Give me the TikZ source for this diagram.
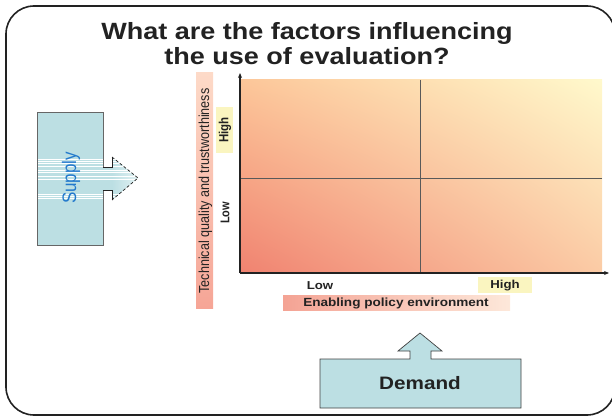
\documentclass[tikz,border=0pt]{standalone}
\usepackage{fontspec}
\setmainfont{Liberation Sans}
\usetikzlibrary{arrows.meta,shadings}
\definecolor{ink}{HTML}{222222}
\definecolor{boxblue}{HTML}{BCDFE3}
\definecolor{hiyel}{HTML}{FAF5C0}
\definecolor{suppblue}{HTML}{2279CC}
\definecolor{qll}{HTML}{F08270}
\definecolor{qul}{HTML}{FCC699}
\definecolor{qur}{HTML}{FFF9CC}
\definecolor{qlr}{HTML}{FBCBA5}
\newcommand{\hs}[1]{\scalebox{1.15}[1]{#1}}
\newcommand{\vs}[1]{\scalebox{1}[1.15]{#1}}
\tikzset{
  lbl/.style={inner sep=0pt, text=ink},
  axisline/.style={line width=1.3pt, draw=ink, -{Stealth[length=5pt,width=4pt]}},
  divider/.style={line width=1pt, draw=black!65},
  bluebox/.style={fill=boxblue, draw=black!75, line width=0.7pt},
}
\begin{document}
\begin{tikzpicture}[x=1pt,y=-1pt]
\useasboundingbox (0,0) rectangle (612,417);
\clip (0,0) rectangle (612,417);
% frame
\draw[line width=1.6pt, draw=ink, rounded corners=28pt] (6,6) rectangle (615,415);
% title
\node[lbl, anchor=base] (t1) at (307,40) {\fontsize{23.5}{28}\selectfont\bfseries\hs{What are the factors influencing}};
\node[lbl, anchor=base] (t2) at (307,65) {\fontsize{23.5}{28}\selectfont\bfseries\hs{the use of evaluation?}};
% quadrant
\shade[lower left=qll, upper left=qul, upper right=qur, lower right=qlr] (240,80) rectangle (602,273);
\coordinate (o) at (240,273);
\coordinate (ytop) at (240,73);
\coordinate (xend) at (609,273);
\draw[divider] (420,80) -- (420,273);
\draw[divider] (240,178) -- (602,178);
\draw[axisline] (o) -- (ytop);
\draw[axisline] (o) -- (xend);
% y label band
\shade[top color={rgb,255:red,253;green,218;blue,200}, bottom color={rgb,255:red,246;green,165;blue,150}] (196,73) rectangle (213,308);
\node[lbl, rotate=90] (ylab) at (205.5,191) {\fontsize{12.6}{14}\selectfont\vs{Technical quality and trustworthiness}};
\fill[hiyel] (216,107) rectangle (233,153);
\node[lbl, rotate=90] (yhigh) at (225,130) {\fontsize{11.5}{13}\selectfont\bfseries\vs{High}};
\node[lbl, rotate=90] (ylow) at (225,213) {\fontsize{11}{13}\selectfont\bfseries\vs{Low}};
% x labels
\node[lbl] (xlow) at (320,286) {\fontsize{11.5}{13}\selectfont\bfseries\hs{Low}};
\fill[hiyel] (478,277) rectangle (532,293);
\node[lbl] (xhigh) at (505,285.5) {\fontsize{11.5}{13}\selectfont\bfseries\hs{High}};
\shade[left color={rgb,255:red,244;green,163;blue,148}, right color={rgb,255:red,253;green,232;blue,218}] (283,295) rectangle (510,310);
\node[lbl] (xlab) at (396,303) {\fontsize{11.8}{13}\selectfont\bfseries\hs{Enabling policy environment}};
% demand
\draw[bluebox] (320,359) -- (410,359) -- (410,351) -- (398,351) -- (420,333) -- (442,351) -- (431,351) -- (431,359) -- (521,359) -- (521,408) -- (320,408) -- cycle;
\node[lbl] (demand) at (420,383) {\fontsize{18}{20}\selectfont\bfseries\hs{Demand}};
% supply
\fill[boxblue] (37,112) rectangle (103,245);
\fill[boxblue] (102,167) rectangle (112.5,190);
\shade[left color=boxblue, right color=boxblue!45] (112,157) -- (138,178) -- (112,200) -- cycle;
\begin{scope}
  \clip (37,112) -- (103,112) -- (103,167) -- (112,167) -- (112,157) -- (138,178) -- (112,200) -- (112,190) -- (103,190) -- (103,245) -- (37,245) -- cycle;
  \foreach \yy in {159,161.3,163.3,166,170,172.7,176.7,179.3,194.3,196.7,198.7}
    \draw[white, line width=0.6pt] (37,\yy) -- (140,\yy);
\end{scope}
\draw[black!60, line width=0.6pt] (103,167) |- (37,112) |- (103,245) -- (103,190);
\draw[ink, line width=0.7pt] (103,167) -- (112,167) -- (112,157);
\draw[ink, line width=0.7pt] (103,190) -- (112,190) -- (112,200);
\draw[ink, line width=0.7pt, densely dashed] (112,157) -- (138,178) -- (112,200);
\node[rotate=90, inner sep=0pt, text=suppblue] (supply) at (71,178) {\fontsize{17}{19}\selectfont\vs{Supply}};
\end{tikzpicture}
\end{document}
